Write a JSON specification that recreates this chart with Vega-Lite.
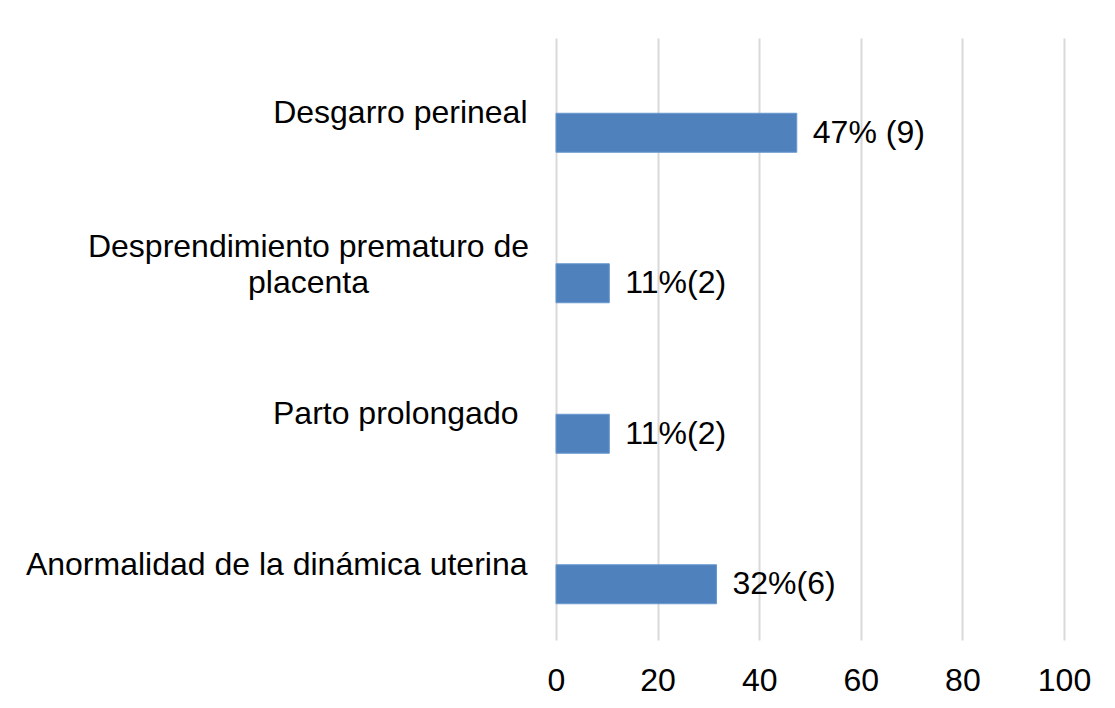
{
  "$schema": "https://vega.github.io/schema/vega-lite/v6.json",
  "autosize": {"type": "none"},
  "width": 508,
  "height": 602,
  "padding": {"left": 556, "top": 38, "right": 51, "bottom": 68},
  "background": "white",
  "config": {
    "view": {"stroke": null},
    "font": "Liberation Sans"
  },
  "data": {
    "values": [
      {"categoria": "Desgarro perineal", "porcentaje": 47.4, "etiqueta": "47% (9)"},
      {"categoria": "Desprendimiento prematuro de placenta", "porcentaje": 10.5, "etiqueta": "11%(2)"},
      {"categoria": "Parto prolongado", "porcentaje": 10.5, "etiqueta": "11%(2)"},
      {"categoria": "Anormalidad de la dinámica uterina", "porcentaje": 31.6, "etiqueta": "32%(6)"}
    ]
  },
  "encoding": {
    "y": {
      "field": "categoria",
      "type": "nominal",
      "sort": null,
      "scale": {"paddingInner": 0, "paddingOuter": 0},
      "axis": {
        "title": null,
        "domain": false,
        "ticks": false,
        "grid": false,
        "labelFont": "Liberation Sans",
        "labelFontSize": 32,
        "labelColor": "#000000",
        "labelLimit": 0,
        "labelLineHeight": 36,
        "labelBaseline": "middle",
        "labelExpr": "datum.value == 'Desprendimiento prematuro de placenta' ? ['Desprendimiento prematuro de', 'placenta'] : datum.label",
        "labelAlign": {"condition": {"test": "datum.value == 'Desprendimiento prematuro de placenta'", "value": "center"}, "value": "right"},
        "labelOffset": {"condition": {"test": "datum.value == 'Desprendimiento prematuro de placenta'", "value": -17}, "value": 0},
        "labelPadding": {"condition": [
          {"test": "datum.value == 'Desprendimiento prematuro de placenta'", "value": 248},
          {"test": "datum.value == 'Parto prolongado'", "value": 38}
        ], "value": 29}
      }
    },
    "x": {
      "field": "porcentaje",
      "type": "quantitative",
      "scale": {"domain": [0, 100], "nice": false},
      "axis": {
        "title": null,
        "values": [0, 20, 40, 60, 80, 100],
        "domain": false,
        "ticks": false,
        "grid": true,
        "gridColor": "#d9d9d9",
        "gridWidth": 2,
        "labelFont": "Liberation Sans",
        "labelFontSize": 32,
        "labelColor": "#000000",
        "labelPadding": 25,
        "labelFlush": false
      }
    }
  },
  "layer": [
    {
      "mark": {"type": "bar", "height": 39, "yOffset": 19.5, "fill": "#4f81bd", "stroke": "#6a98cf", "strokeWidth": 1}
    },
    {
      "mark": {"type": "text", "align": "left", "baseline": "middle", "dx": 16, "yOffset": 19.5, "fontSize": 32, "font": "Liberation Sans", "color": "#000000"},
      "encoding": {"text": {"field": "etiqueta"}}
    }
  ]
}
